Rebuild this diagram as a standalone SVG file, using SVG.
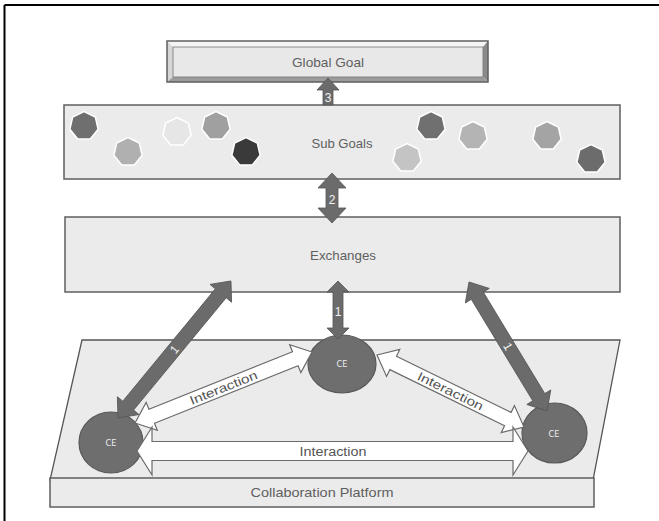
<svg xmlns="http://www.w3.org/2000/svg" width="659" height="521" viewBox="0 0 659 521">
<style>
.box{fill:#ebebeb;stroke:#5f5f5f;stroke-width:1.5}
.lbl{font-family:"Liberation Sans",Arial,sans-serif;font-size:13px;fill:#5f5f5f;text-anchor:middle}
.dark{fill:#6b6b6b;stroke:#555;stroke-width:0.8}
.white{fill:#ffffff;stroke:#6a6a6a;stroke-width:1.2}
.num{font-family:"Liberation Sans",Arial,sans-serif;font-size:12px;fill:#f2f2f2;text-anchor:middle}
.ia{font-family:"Liberation Sans",Arial,sans-serif;font-size:12.5px;fill:#555;text-anchor:middle}
.ce{fill:#6e6e6e;stroke:#585858;stroke-width:1.2}
.cet{font-family:"DejaVu Sans Condensed","Liberation Sans",sans-serif;font-size:9px;fill:#eeeeee;text-anchor:middle}
.hp{stroke:#ffffff;stroke-width:1.5}
</style>
<defs>
<polygon id="hept" points="0,-14.5 11.34,-9.04 14.14,3.23 6.29,13.06 -6.29,13.06 -14.14,3.23 -11.34,-9.04"/>
</defs>
<rect width="659" height="521" fill="#ffffff"/>
<g id="frame">
<line x1="4.5" y1="5" x2="659" y2="5" stroke="#000" stroke-width="2"/>
<line x1="4.5" y1="5" x2="4.5" y2="521" stroke="#000" stroke-width="2"/>
</g>

<g id="platform">
<polygon points="82,340 620,340 593,480 50,480" fill="#ebebeb" stroke="#555" stroke-width="1.3"/>
</g>
<g id="collaboration-platform">
<rect x="50" y="478" width="544" height="29" class="box"/>
<text x="322" y="497" class="lbl" font-size="14" textLength="143" lengthAdjust="spacingAndGlyphs">Collaboration Platform</text>
</g>

<g id="global-goal">
<polygon points="167,41 488,41 483,47 173,47" fill="#f4f4f4"/>
<polygon points="167,41 173,47 173,77 167,82" fill="#d6d6d6"/>
<polygon points="488,41 488,82 483,77 483,47" fill="#8a8a8a"/>
<polygon points="167,82 488,82 483,77 173,77" fill="#9c9c9c"/>
<rect x="173" y="47" width="310" height="30" fill="#e8e8e8" stroke="#777" stroke-width="0.8"/>
<rect x="167" y="41" width="321" height="41" fill="none" stroke="#5f5f5f" stroke-width="1.5"/>
<text x="328" y="66.5" class="lbl" textLength="72" lengthAdjust="spacingAndGlyphs">Global Goal</text>
</g>

<g id="sub-goals">
<rect x="64" y="105" width="556" height="74" class="box"/>
<use href="#hept" transform="translate(84,126)" fill="#6f6f6f" class="hp"/>
<use href="#hept" transform="translate(128,152)" fill="#b0b0b0" class="hp"/>
<use href="#hept" transform="translate(177,132)" fill="#e6e6e6" class="hp"/>
<use href="#hept" transform="translate(216,126)" fill="#a0a0a0" class="hp"/>
<use href="#hept" transform="translate(246,152)" fill="#3a3a3a" class="hp"/>
<use href="#hept" transform="translate(431,126)" fill="#707070" class="hp"/>
<use href="#hept" transform="translate(473,136)" fill="#b4b4b4" class="hp"/>
<use href="#hept" transform="translate(407,158)" fill="#c4c4c4" class="hp"/>
<use href="#hept" transform="translate(547,136)" fill="#a4a4a4" class="hp"/>
<use href="#hept" transform="translate(591,159)" fill="#6c6c6c" class="hp"/>
<text x="342" y="147.5" class="lbl" textLength="61" lengthAdjust="spacingAndGlyphs">Sub Goals</text>
</g>

<g id="exchanges">
<rect x="65" y="217" width="555" height="75" class="box"/>
<text x="343" y="259.5" class="lbl" textLength="66" lengthAdjust="spacingAndGlyphs">Exchanges</text>
</g>

<g id="ce-center">
<ellipse cx="342" cy="364" rx="34" ry="29" class="ce"/>
<text x="342" y="367" class="cet">CE</text>
</g>
<g id="ce-left">
<ellipse cx="111" cy="442.5" rx="32" ry="30.5" class="ce"/>
<text x="111" y="446" class="cet">CE</text>
</g>
<g id="ce-right">
<ellipse cx="554.5" cy="433" rx="32.5" ry="30" class="ce"/>
<text x="554" y="436.5" class="cet">CE</text>
</g>

<g id="connectors">
<!-- 3: Sub Goals -> Global Goal -->
<polygon class="dark" points="328,78 339,90 333,90 333,105 323,105 323,90 317,90"/>
<text x="328" y="102" class="num" font-size="11">3</text>
<!-- 2: Sub Goals <-> Exchanges -->
<polygon class="dark" points="332,173 346,188 338,188 338,208 346,208 332,223 318,208 326,208 326,188 318,188"/>
<text x="332" y="204" class="num">2</text>
<!-- 1: center CE <-> Exchanges -->
<polygon class="dark" points="338,281 349,292 343,292 343,328 349,328 338,339 327,328 333,328 333,292 327,292"/>
<text x="338" y="315.5" class="num">1</text>
<!-- 1: left CE <-> Exchanges -->
<g transform="translate(118,418) rotate(-50.5)">
<polygon class="dark" points="0,0 16,-14 16,-7 161.6,-7 161.6,-14 177.6,0 161.6,14 161.6,7 16,7 16,14"/>
<text x="88.8" y="4.2" class="num">1</text>
</g>
<!-- 1: right CE <-> Exchanges -->
<g transform="translate(469,282) rotate(58.8)">
<polygon class="dark" points="0,0 16,-14 16,-7 134.7,-7 134.7,-14 150.7,0 134.7,14 134.7,7 16,7 16,14"/>
<text x="75.3" y="4.2" class="num">1</text>
</g>
<!-- Interaction: left CE <-> center CE -->
<g transform="translate(135,423) rotate(-21.86)">
<polygon class="white" points="0,0 18,-15 18,-7.5 172.7,-7.5 172.7,-15 190.7,0 172.7,15 172.7,7.5 18,7.5 18,15"/>
<text x="95.3" y="4.5" class="ia" textLength="72" lengthAdjust="spacingAndGlyphs">Interaction</text>
</g>
<!-- Interaction: center CE <-> right CE -->
<g transform="translate(377,355) rotate(26.1)">
<polygon class="white" points="0,0 18,-15 18,-7.5 145.7,-7.5 145.7,-15 163.7,0 145.7,15 145.7,7.5 18,7.5 18,15"/>
<text x="81.8" y="4.5" class="ia" textLength="72" lengthAdjust="spacingAndGlyphs">Interaction</text>
</g>
<!-- Interaction: left CE <-> right CE -->
<polygon class="white" points="137,451 152,427 152,441.5 513,441.5 513,427 528,451 513,475 513,460.5 152,460.5 152,475"/>
<text x="333" y="455.5" class="ia" textLength="67" lengthAdjust="spacingAndGlyphs">Interaction</text>
</g>
</svg>
